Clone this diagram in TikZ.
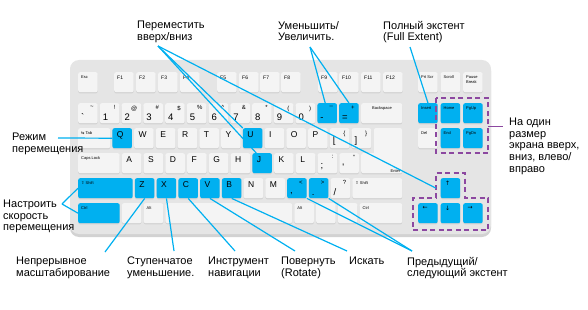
\documentclass[tikz,border=0pt]{standalone}
\usepackage{fontspec}
\setmainfont{Liberation Sans}
\newfontfamily\symfont{DejaVu Sans}
\usetikzlibrary{positioning,shadows}
\definecolor{kbblue}{RGB}{0,176,240}
\definecolor{kbpurple}{RGB}{140,72,160}
\definecolor{kbbody}{RGB}{229,229,229}
\definecolor{kbkey}{RGB}{244,244,244}
\definecolor{kbshade}{RGB}{210,210,210}
\definecolor{kbtext}{RGB}{168,168,168}

\begin{document}
\begin{tikzpicture}[x=1pt,y=-1pt,
  key/.style={rectangle,fill=kbkey,rounded corners=2pt,anchor=north west,inner sep=0pt,
    minimum width=19.5pt,minimum height=20pt,
    drop shadow={shadow xshift=0pt,shadow yshift=-1.2pt,fill=kbshade,opacity=1},
    every label/.style={text=kbtext}},
  hot/.style={key,fill=kbblue,every label/.style={text=white}},
  ktxt/.style={anchor=north west,inner sep=0pt,xshift=3pt,yshift=-3.5pt,font=\fontsize{4}{4.6}\selectfont},
  kfn/.style={ktxt,font=\fontsize{5}{5}\selectfont},
  klet/.style={anchor=north west,inner sep=0pt,xshift=4.5pt,yshift=-3pt,font=\fontsize{8.5}{8.5}\selectfont},
  karr/.style={klet,font=\symfont\fontsize{6}{6}\selectfont},
  kdig/.style={anchor=south west,inner sep=0pt,xshift=3pt,yshift=3pt,font=\fontsize{9.5}{9.5}\selectfont},
  ksym/.style={anchor=north east,inner sep=0pt,xshift=-4pt,yshift=-2.5pt,font=\fontsize{6}{6}\selectfont},
  lbl/.style={anchor=north west,align=left,inner sep=0pt,font=\fontsize{11}{11.6}\selectfont},
  link/.style={draw=kbblue,line width=1.2pt},
  dashbox/.style={draw=kbpurple,line width=1.8pt,dash pattern=on 5pt off 3.5pt}]
\useasboundingbox (0,0) rectangle (588,310);

% keyboard body
\fill[kbshade,rounded corners=9pt] (70,62) rectangle (491,237);
\fill[kbbody,rounded corners=9pt] (70,60) rectangle (491,234);

% function row
\node[key,label={[ktxt]north west:Esc}] (k-esc) at (78,72) {};
\foreach \n/\x in {1/114,2/136,3/158,4/180,5/217,6/239,7/260,8/281,9/318,10/339,11/361,12/383}
  \node[key,label={[kfn]north west:F\n}] (k-f\n) at (\x,72) {};
\node[key,label={[ktxt]north west:Prt Scr}] (k-prt) at (418,72) {};
\node[key,label={[ktxt]north west:Scroll}] (k-scroll) at (440.5,72) {};
\node[key,label={[ktxt,align=left]north west:Pause\\Break}] (k-pause) at (463,72) {};

% number row
\foreach \n/\s/\d [count=\i from 0] in {grave/\textasciitilde/\textasciigrave,one/!/1,two/@/2,three/\#/3,
    four/\$/4,five/\%/5,six/\textasciicircum/6,seven/\&/7,eight/*/8,nine/(/9,zero/)/0}
  \node[key,label={[ksym]north east:\s},label={[kdig]south west:\d}] (k-\n) at (78+21.75*\i,103) {};
\node[hot,label={[ksym]north east:\_},label={[kdig]south west:-}] (k-minus) at (317.25,103) {};
\node[hot,label={[ksym]north east:+},label={[kdig]south west:=}] (k-equal) at (339,103) {};
\node[key,minimum width=41pt,label={[ktxt,xshift=8pt]north west:Backspace}] (k-back) at (361,103) {};
\node[hot,label={[ktxt]north west:Insert}] (k-insert) at (418,103) {};
\node[hot,label={[ktxt]north west:Home}] (k-home) at (440.5,103) {};
\node[hot,label={[ktxt]north west:PgUp}] (k-pgup) at (463,103) {};

% top row of letters
\node[key,minimum width=32pt,label={[ktxt]north west:{\symfont ⇆} Tab}] (k-tab) at (78,128) {};
\foreach \n/\t/\s [count=\i from 0] in {q/Q/hot,w/W/key,e/E/key,r/R/key,t/T/key,y/Y/key,u/U/hot,i/I/key,o/O/key,p/P/key}
  \node[\s,label={[klet]north west:\t}] (k-\n) at (112.25+21.75*\i,128) {};
\node[key,label={[ksym]north east:\{},label={[kdig]south west:{[}}] (k-lbrack) at (329.75,128) {};
\node[key,label={[ksym]north east:\}},label={[kdig]south west:{]}}] (k-rbrack) at (351.5,128) {};
\fill[kbkey,rounded corners=2pt] (374,128) rectangle (402,165);
\node[key,label={[ktxt]north west:Del}] (k-del) at (418,128) {};
\node[hot,label={[ktxt]north west:End}] (k-end) at (440.5,128) {};
\node[hot,label={[ktxt]north west:PgDn}] (k-pgdn) at (463,128) {};

% home row
\node[key,minimum width=41.5pt,label={[ktxt]north west:Caps Lock}] (k-caps) at (78,153) {};
\foreach \n/\t/\s [count=\i from 0] in {a/A/key,s/S/key,d/D/key,f/F/key,g/G/key,h/H/key,j/J/hot,k/K/key,l/L/key}
  \node[\s,label={[klet]north west:\t}] (k-\n) at (121.75+21.75*\i,153) {};
\node[key,label={[ksym]north east::},label={[kdig]south west:;}] (k-semi) at (317.5,153) {};
\node[key,label={[ksym]north east:"},label={[kdig]south west:\textquotesingle}] (k-quote) at (339.25,153) {};
\node[key,minimum width=41pt,label={[ktxt,anchor=south east,xshift=-5pt,yshift=4pt]south east:Enter}] (k-enter) at (361,153) {};

% bottom row of letters
\node[hot,minimum width=54.5pt,label={[ktxt]north west:{\symfont ⇧} Shift}] (k-lshift) at (78,178) {};
\foreach \n/\t/\s [count=\i from 0] in {z/Z/hot,x/X/hot,c/C/hot,v/V/hot,b/B/hot,n/N/key,m/M/key}
  \node[\s,label={[klet]north west:\t}] (k-\n) at (134.75+21.75*\i,178) {};
\node[hot,label={[ksym]north east:<},label={[kdig]south west:{,}}] (k-comma) at (287,178) {};
\node[hot,label={[ksym]north east:>},label={[kdig]south west:.}] (k-period) at (308.75,178) {};
\node[key,label={[ksym]north east:?},label={[kdig]south west:{/}}] (k-slash) at (330.5,178) {};
\node[key,minimum width=49.75pt,label={[ktxt]north west:{\symfont ⇧} Shift}] (k-rshift) at (352.25,178) {};
\node[hot,label={[karr]north west:↑}] (k-up) at (440.5,178) {};

% space row
\node[hot,minimum width=41.5pt,label={[ktxt]north west:Ctrl}] (k-lctrl) at (78,203) {};
\node[key] (k-lwin) at (121.75,203) {};
\node[key,label={[ktxt]north west:Alt}] (k-lalt) at (143.5,203) {};
\node[key,minimum width=126.75pt] (k-space) at (165.25,203) {};
\node[key,label={[ktxt]north west:Alt}] (k-ralt) at (294.25,203) {};
\node[key] (k-rwin) at (316,203) {};
\node[key] (k-menu) at (337.75,203) {};
\node[key,minimum width=42.5pt,label={[ktxt]north west:Ctrl}] (k-rctrl) at (359.5,203) {};
\node[hot,label={[karr]north west:←}] (k-left) at (418,203) {};
\node[hot,label={[karr]north west:↓}] (k-down) at (440.5,203) {};
\node[hot,label={[karr]north west:→}] (k-right) at (463,203) {};

% dashed groups
\draw[dashbox] (436,98) rectangle (488,153);
\draw[dashbox] (436,198) -- (436,173) -- (465,173) -- (465,198) -- (488,198)
  -- (488,230) -- (413,230) -- (413,198) -- cycle;

% labels
\node[lbl] (move) at (137,21) {Переместить\\вверх/вниз};
\node[lbl] (zoominout) at (278,21) {Уменьшить/\\Увеличить.};
\node[lbl] (fullext) at (383,21) {Полный экстент\\(Full Extent)};
\node[lbl] (panmode) at (12,133) {Режим\\перемещения};
\node[lbl] (speed) at (3,200) {Настроить\\скорость\\перемещения};
\node[lbl] (contzoom) at (16,257) {Непрерывное\\масштабирование};
\node[lbl] (stepzoom) at (127,257) {Ступенчатое\\уменьшение.};
\node[lbl] (navtool) at (208,257) {Инструмент\\навигации};
\node[lbl] (rotate) at (281,257) {Повернуть\\(Rotate)};
\node[lbl] (search) at (349,257) {Искать};
\node[lbl] (prevnext) at (407,257) {Предыдущий/\\следующий экстент};
\node[lbl] (pagemove) at (509,118) {На один\\размер\\экрана вверх,\\вниз, влево/\\вправо};

% connector ends
\coordinate (move-tip) at (158,46);
\coordinate (zoom-tip) at (310,47);
\coordinate (full-tip) at (410,47);
\coordinate (pan-tip) at (58,138);
\coordinate (speed-tip) at (62,204);
\coordinate (cont-tip) at (105,252);
\coordinate (step-tip) at (174,251);
\coordinate (nav-tip) at (235,251);
\coordinate (rot-tip) at (295,251);
\coordinate (search-tip) at (347,251);
\coordinate (prev-tip) at (412,251);
\coordinate (page-tip) at (488,126);

\draw[link] (move-tip) -- (k-u.north west);
\draw[link] (move-tip) -- ([xshift=4pt]k-j.north west);
\draw[link] (move-tip) -- ([xshift=-4.5pt]k-up.west);
\draw[link] (zoom-tip) -- ([xshift=-2pt]k-minus.north);
\draw[link] (zoom-tip) -- (k-equal.north);
\draw[link] (full-tip) -- (k-insert.north);
\draw[link] (pan-tip) -- (k-q.west);
\draw[link] (speed-tip) -- (k-lshift.west);
\draw[link] (speed-tip) -- (k-lctrl.west);
\draw[link] (cont-tip) -- (k-z.south);
\draw[link] (step-tip) -- (k-x.south);
\draw[link] (nav-tip) -- (k-c.south);
\draw[link] (rot-tip) -- (k-v.south);
\draw[link] (search-tip) -- (k-b.south);
\draw[link] (prev-tip) -- (k-comma.south east);
\draw[link] (prev-tip) -- (k-period.south east);
\draw[kbpurple,line width=1pt] (page-tip) -- ([xshift=-6pt,yshift=-8pt]pagemove.north west);
\end{tikzpicture}
\end{document}
